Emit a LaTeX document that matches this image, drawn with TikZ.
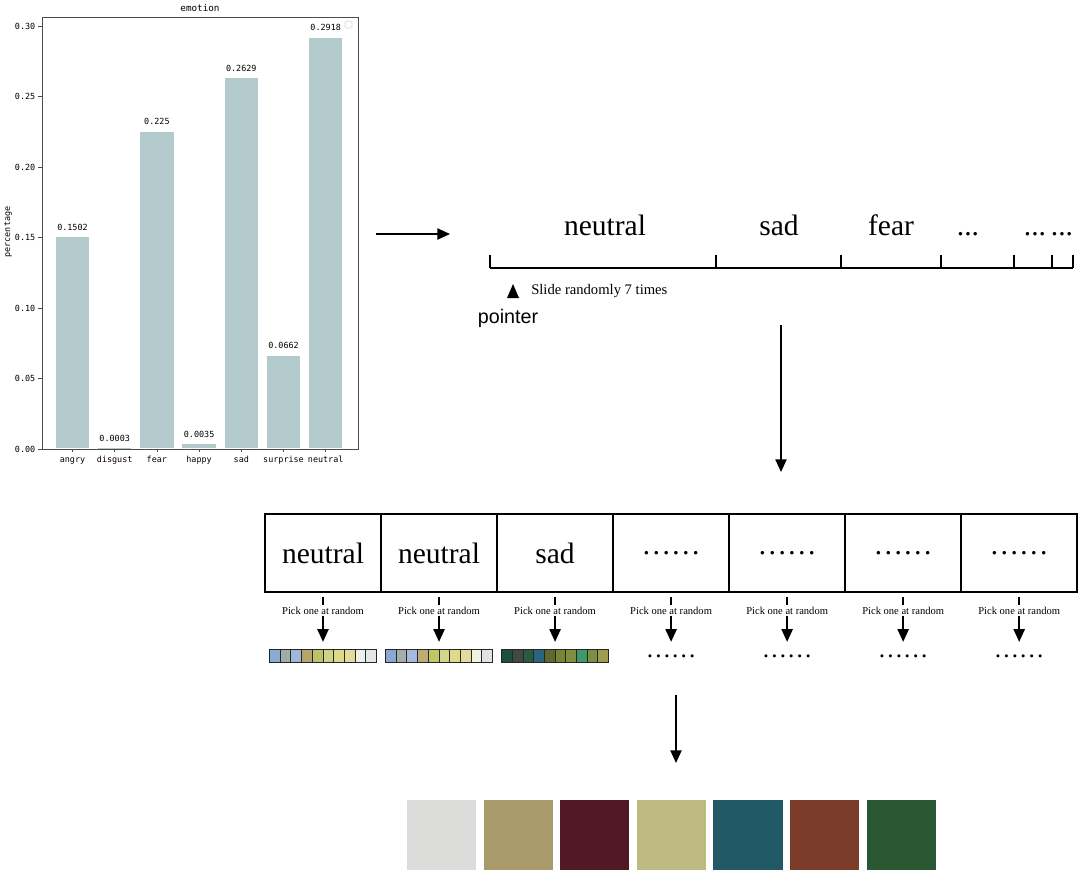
\documentclass[tikz,border=0pt]{standalone}
\usepackage{fontspec}
\setmainfont{Liberation Serif}
\newfontfamily\chartfont{DejaVu Sans Mono}
\newfontfamily\pointerfont{Liberation Sans}
\usepackage{tikz}
\usetikzlibrary{arrows.meta,positioning,calc}
\definecolor{EmoBar}{HTML}{B2CACC}
\definecolor{EmoAxis}{HTML}{4A4A4A}
\definecolor{SwGrey}{HTML}{DCDCDA}
\definecolor{SwOlive}{HTML}{A89A6A}
\definecolor{SwWine}{HTML}{511924}
\definecolor{SwSage}{HTML}{BDBA82}
\definecolor{SwTeal}{HTML}{215966}
\definecolor{SwRust}{HTML}{7B3D2A}
\definecolor{SwGreen}{HTML}{295732}

\begin{document}
\begin{tikzpicture}[
  x=0.025cm,y=-0.025cm,
  frame/.style={draw=EmoAxis,line width=0.7pt},
  chartlbl/.style={font=\chartfont\fontsize{6}{7}\selectfont,inner sep=1pt},
  bigword/.style={font=\fontsize{21}{24}\selectfont,anchor=base,inner sep=0pt},
  catbox/.style={draw,line width=1.4pt,minimum width=2.9cm,minimum height=1.95cm,inner sep=0pt,outer sep=0pt,font=\fontsize{21}{24}\selectfont},
  pick/.style={font=\fontsize{7.5}{9}\selectfont,inner sep=1pt},
  strip/.style={minimum width=2.675cm,minimum height=0.325cm,inner sep=0pt,outer sep=0pt},
  cell/.style={draw=black!85,line width=0.6pt},
  swatch/.style={minimum width=1.725cm,minimum height=1.75cm,inner sep=0pt,outer sep=0pt},
  flow/.style={-{Triangle[length=9pt,width=8pt]},line width=1pt},
]
\useasboundingbox (0,0) rectangle (1084,881);

% bar chart
\draw[frame] (42,17) rectangle (358,449);
\node[chartlbl,font=\chartfont\fontsize{6.6}{7}\selectfont] (title) at (200,8) {emotion};
\node[chartlbl,rotate=90] (ylab) at (8,232) {percentage};
\draw[gray!35,rounded corners=1pt] (345,21) rectangle (352,28);
\foreach \v/\t in {0/0.00,1/0.05,2/0.10,3/0.15,4/0.20,5/0.25,6/0.30}{
  \draw[EmoAxis] (42,449-70.5*\v) -- ++(-4,0);
  \node[chartlbl,anchor=east] at (37,449-70.5*\v) {\t};
}
\foreach \name/\val [count=\i from 0] in {angry/0.1502,disgust/0.0003,fear/0.225,happy/0.0035,sad/0.2629,surprise/0.0662,neutral/0.2918}{
  \pgfmathsetmacro\cx{72.5+42.2*\i}
  \pgfmathsetmacro\bartop{449-1410*\val}
  \fill[EmoBar] (\cx-16.75,448) rectangle (\cx+16.75,\bartop);
  \node[chartlbl,anchor=south] at (\cx,\bartop-5) {\val};
  \draw[EmoAxis] (\cx,449) -- ++(0,3);
  \node[chartlbl,anchor=base] at (\cx,462) {\name};
}

% chart to slider
\coordinate (chartout) at (376,234);
\coordinate (sliderin) at (450,234);
\draw[flow] (chartout) -- (sliderin);

% slider
\foreach \k/\px in {0/490,1/716,2/841,3/941,4/1014,5/1052,6/1073}
  \coordinate (t\k) at (\px,268);
\draw[line width=1pt] (t0) -- (t6);
\foreach \k in {0,...,6}
  \draw[line width=1pt] (t\k) -- ++(0,-13);
\node[bigword] (w1) at (605,235) {neutral};
\node[bigword] (w2) at (779,235) {sad};
\node[bigword] (w3) at (891,235) {fear};
\node[bigword] (w4) at (968,235) {...};
\node[bigword] (w5) at (1035,235) {...};
\node[bigword] (w6) at (1062,235) {...};
\fill (507,298) -- (519,298) -- (513,284) -- cycle;
\node[anchor=west,font=\fontsize{10.4}{12}\selectfont,inner sep=0pt] (slide) at (531,291) {Slide randomly 7 times};
\node[font=\pointerfont\fontsize{14}{16}\selectfont,inner sep=0pt] (pointer) at (508,318) {pointer};

% slider to row
\coordinate (sliderout) at (781,325);
\coordinate (rowin) at (781,472);
\draw[flow] (sliderout) -- (rowin);

% row of picks
\node[catbox] (b1) at (323,553) {neutral};
\node[catbox,right=0pt of b1] (b2) {neutral};
\node[catbox,right=0pt of b2] (b3) {sad};
\node[catbox,right=0pt of b3] (b4) {……};
\node[catbox,right=0pt of b4] (b5) {……};
\node[catbox,right=0pt of b5] (b6) {……};
\node[catbox,right=0pt of b6] (b7) {……};

\foreach \k in {1,...,7}{
  \node[pick,below=0.325cm of b\k] (p\k) {Pick one at random};
  \node[strip,below=0.85cm of p\k,font=\fontsize{18}{20}\selectfont] (s\k) {\ifnum\k>3 ……\fi};
  \draw[line width=1pt,shorten <=0.12cm] (b\k.south) -- (p\k.north);
  \draw[flow,shorten >=0.2cm] (p\k.south) -- (s\k.north);
}

% palettes
\foreach \s/\cols in {
  1/{8AAAD0,A3ADA5,A0B6DA,B8A46A,B9C46A,D3D088,DCDA8A,E5DB9D,EEF1E6,E6E6E6},
  2/{88A9D2,A4ADA6,A6B8DC,C2AA73,BDC76C,D4D38A,E0DC86,E8DA9E,EDF2E2,E3E3E0},
  3/{1E4E3A,3F4A45,275C3E,2A6580,5F6A33,7C8433,7F8F3C,3E9A6A,7A9140,9E9C4E}}{
  \foreach \c [count=\j from 0] in \cols{
    \definecolor{cellfill}{HTML}{\c}
    \draw[cell,fill=cellfill] ($(s\s.north west)+(\j*10.7,0)$) rectangle ++(10.7,13);
  }
}

% picks to palette
\coordinate (pickout) at (676,695);
\coordinate (palin) at (676,763);
\draw[flow] (pickout) -- (palin);

% final palette
\node[swatch,fill=SwGrey] (c1) at (441.5,835) {};
\node[swatch,fill=SwOlive,right=0.19cm of c1] (c2) {};
\node[swatch,fill=SwWine,right=0.19cm of c2] (c3) {};
\node[swatch,fill=SwSage,right=0.19cm of c3] (c4) {};
\node[swatch,fill=SwTeal,right=0.19cm of c4] (c5) {};
\node[swatch,fill=SwRust,right=0.19cm of c5] (c6) {};
\node[swatch,fill=SwGreen,right=0.19cm of c6] (c7) {};
\end{tikzpicture}
\end{document}
